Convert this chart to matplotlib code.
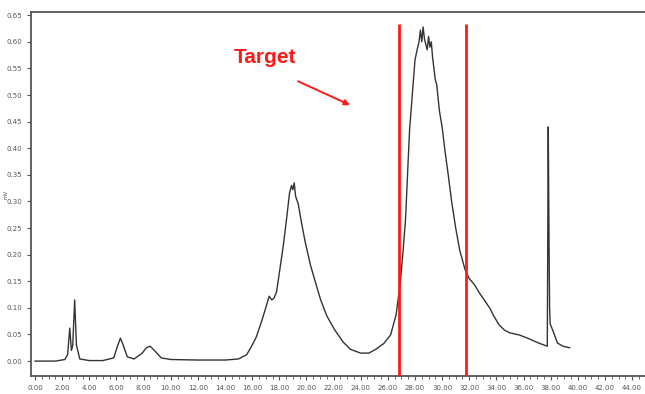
"""
Chromatogram with the target fraction marked between two red cut lines
"""
import numpy as np
import matplotlib
matplotlib.use('Agg')
import matplotlib.pyplot as plt
from matplotlib.ticker import MultipleLocator, FormatStrFormatter

# retention time (min) and signal
time_min = [0.0, 1.5, 2.2, 2.4, 2.56, 2.68, 2.78, 2.92, 3.05, 3.3, 4.0, 5.0, 5.8, 6.1, 6.29, 6.5, 6.8,
            7.3, 7.9, 8.2, 8.48, 8.8, 9.3, 10.0, 12.0, 14.0, 15.0, 15.6, 16.0, 16.3, 16.7, 17.0, 17.25,
            17.45, 17.6, 17.8, 18.0, 18.3, 18.55, 18.75, 18.9, 19.0, 19.1, 19.2, 19.4, 19.6, 19.9, 20.3,
            20.7, 21.05, 21.5, 22.1, 22.7, 23.25, 24.0, 24.6, 25.1, 25.7, 26.2, 26.6, 26.9, 27.1, 27.3,
            27.45, 27.6, 27.8, 28.0, 28.2, 28.3, 28.4, 28.5, 28.6, 28.7, 28.8, 28.9, 29.0, 29.1, 29.2,
            29.3, 29.5, 29.6, 29.8, 30.0, 30.2, 30.45, 30.7, 31.0, 31.3, 31.7, 32.0, 32.4, 32.7, 33.1,
            33.5, 33.8, 34.2, 34.6, 35.0, 35.7, 36.4, 37.1, 37.75, 37.82, 37.88, 37.92, 37.96, 38.15,
            38.5, 38.9, 39.4]
signal = [0.0, 0.0, 0.003, 0.012, 0.062, 0.02, 0.03, 0.115, 0.03, 0.004, 0.001, 0.001, 0.006, 0.03,
          0.043, 0.03, 0.008, 0.004, 0.015, 0.025, 0.028, 0.02, 0.006, 0.003, 0.002, 0.002, 0.004,
          0.012, 0.03, 0.045, 0.075, 0.1, 0.122, 0.115, 0.118, 0.13, 0.165, 0.218, 0.27, 0.315, 0.33,
          0.322, 0.335, 0.31, 0.295, 0.265, 0.225, 0.18, 0.145, 0.115, 0.085, 0.058, 0.036, 0.022, 0.015,
          0.015, 0.022, 0.033, 0.049, 0.086, 0.143, 0.2, 0.265, 0.35, 0.434, 0.5, 0.566, 0.59, 0.6,
          0.622, 0.6, 0.628, 0.605, 0.595, 0.585, 0.61, 0.59, 0.6, 0.57, 0.528, 0.52, 0.47, 0.44, 0.397,
          0.35, 0.3, 0.25, 0.208, 0.171, 0.155, 0.143, 0.13, 0.115, 0.1, 0.085, 0.068, 0.058, 0.053,
          0.049, 0.042, 0.034, 0.028, 0.44, 0.215, 0.1, 0.07, 0.058, 0.034, 0.028, 0.025]

cut_times = [26.8, 31.75]

fig = plt.figure(figsize=(6.45, 3.94), dpi=100)
ax = fig.add_axes([0.048, 0.0457, 0.952, 0.9238])

ax.plot(time_min, signal, color='#333333', lw=1.0)
ax.vlines(cut_times, -0.03, 0.634, color='#ff1a1a', lw=2.0, zorder=3)

ax.text(16.95, 0.57, 'Target', color='#ff1a1a', fontsize=15, fontweight='bold',
        family='Liberation Sans', ha='center', va='center')
ax.annotate('', xy=(23.4, 0.479), xytext=(19.2, 0.528),
            arrowprops=dict(arrowstyle='-|>', color='#ff1a1a', lw=1.4, mutation_scale=8))

ax.set_xlim(-0.3, 44.95)
ax.set_ylim(-0.028, 0.656)
ax.xaxis.set_major_locator(MultipleLocator(2))
ax.xaxis.set_minor_locator(MultipleLocator(0.5))
ax.yaxis.set_major_locator(MultipleLocator(0.05))
ax.xaxis.set_major_formatter(FormatStrFormatter('%.2f'))
ax.yaxis.set_major_formatter(FormatStrFormatter('%.2f'))
ax.tick_params(labelsize=5, colors='#555555', length=3, width=0.8)
ax.tick_params(which='minor', length=2, width=0.6, colors='#555555')
ax.set_ylabel('mV', fontsize=4, color='#555555')
ax.yaxis.set_label_coords(-0.036, 0.5)

for side in ['left', 'bottom', 'top']:
    ax.spines[side].set_color('#555555')
    ax.spines[side].set_linewidth(1.3)
ax.spines['right'].set_visible(False)

fig.savefig('out.png', dpi=100)
